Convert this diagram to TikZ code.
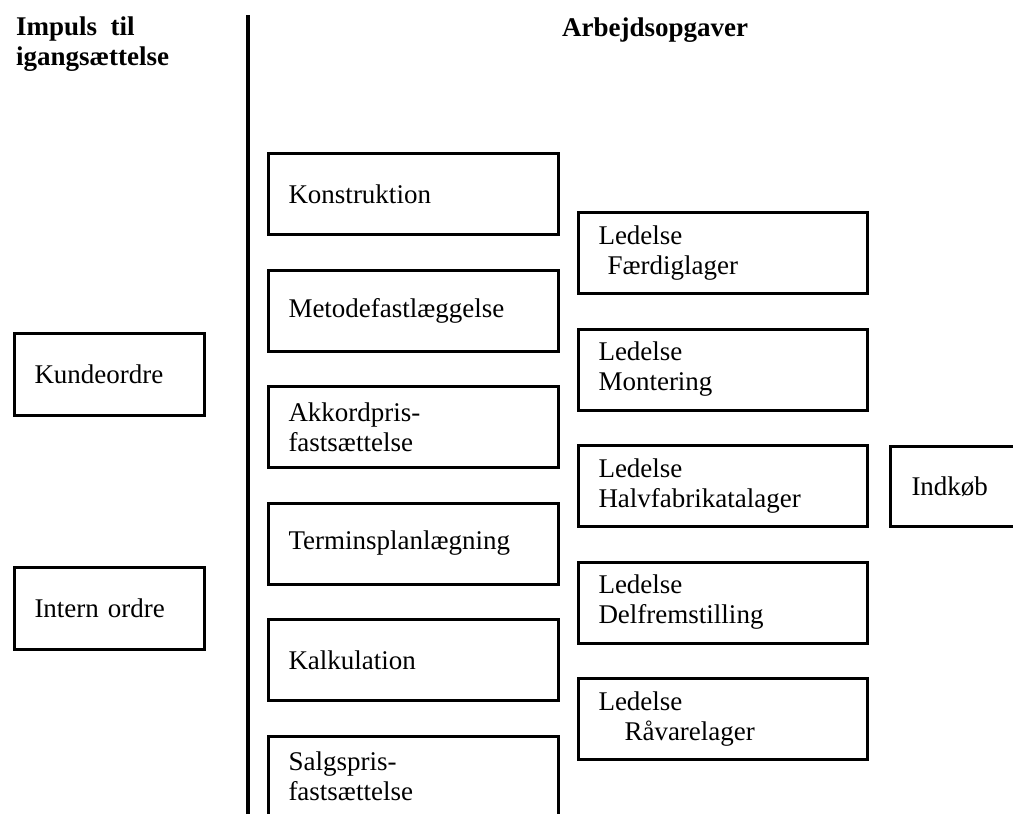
\documentclass[tikz,border=0pt]{standalone}
\usepackage{fontspec}
\setmainfont{Liberation Serif}
\usetikzlibrary{positioning}
\newcommand{\brodtekst}{\fontsize{27}{30}\selectfont}
\begin{document}
\begin{tikzpicture}[
        x=1pt, y=-1pt,
        every node/.style={font=\brodtekst, inner sep=0pt},
        felt/.style={draw, line width=3pt, anchor=north west, align=left, inner xsep=20pt, minimum height=81pt},
        opgave/.style={felt, text width=250pt},
        ledelse/.style={felt, text width=249pt},
        impuls/.style={felt, text width=150pt, minimum height=82pt},
        overskrift/.style={font=\brodtekst\bfseries, align=left},
        node distance=32.5pt
    ]
    \useasboundingbox (0,0) rectangle (1013,814);
    % overskrifter og skillelinje
    \node[overskrift, anchor=north west] (impulstitel) at (16,17) {Impuls~~til\\igangsættelse};
    \node[overskrift, anchor=base west] (opgavetitel) at (562,36) {Arbejdsopgaver};
    \coordinate (skil top) at (248,15);
    \coordinate (skil bund) at (248,820);
    \draw[line width=3.8pt] (skil top) -- (skil bund);
    % impulser
    \node[impuls] (kunde) at (13,332) {Kundeordre};
    \node[impuls] (intern) at (13,566) {Intern ordre};
    % arbejdsopgaver
    \node[opgave] (konstr) at (267,152) {Konstruktion};
    \node[opgave, below=of konstr] (metode) {Metodefastlæggelse};
    \node[opgave, below=of metode] (akkord) {Akkordpris-\\fastsættelse};
    \node[opgave, below=of akkord] (termin) {Terminsplanlægning};
    \node[opgave, below=of termin] (kalk) {Kalkulation};
    \node[opgave, below=of kalk] (salg) {Salgspris-\\fastsættelse};
    % ledelse
    \node[ledelse] (faerdig) at (577,211) {Ledelse\\\hspace*{9pt}Færdiglager};
    \node[ledelse, below=of faerdig] (montering) {Ledelse\\Montering};
    \node[ledelse, below=of montering] (halvfab) {Ledelse\\Halvfabrikatalager};
    \node[ledelse, below=of halvfab] (delfrem) {Ledelse\\Delfremstilling};
    \node[ledelse, below=of delfrem] (raavare) {Ledelse\\\hspace*{26pt}Råvarelager};
    \node[felt, text width=160pt, inner xsep=21pt, minimum height=80pt] (indkoeb) at (889,445) {Indkøb};
\end{tikzpicture}
\end{document}
